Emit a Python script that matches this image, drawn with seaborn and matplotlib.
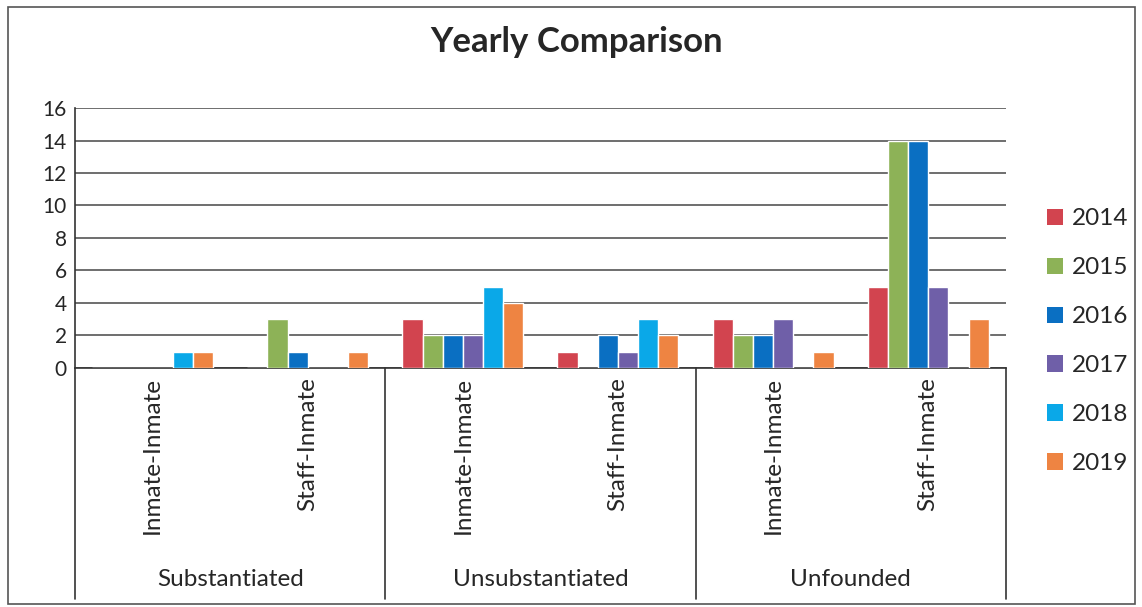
import pandas as pd
import numpy as np
import seaborn as sns
import matplotlib.pyplot as plt
from matplotlib.patches import Rectangle, Patch
from matplotlib.lines import Line2D

sns.set_style('white')
plt.rcParams['font.family'] = ['Lato', 'DejaVu Sans']

groups = ['Substantiated', 'Unsubstantiated', 'Unfounded']
types = ['Inmate-Inmate', 'Staff-Inmate']
years = ['2014', '2015', '2016', '2017', '2018', '2019']
colors = ['#D2444F', '#8DB257', '#0A6FC2', '#6F5FA8', '#0AA8E8', '#EE8442']

# values per category (group x type), one list per year
v2014 = [0, 0, 3, 1, 3, 5]
v2015 = [0, 3, 2, 0, 2, 14]
v2016 = [0, 1, 2, 2, 2, 14]
v2017 = [0, 0, 2, 1, 3, 5]
v2018 = [1, 0, 5, 3, 0, 0]
v2019 = [1, 1, 4, 2, 1, 3]

cats = [f'{g}|{t}' for g in groups for t in types]
rows = []
for yr, vals in zip(years, [v2014, v2015, v2016, v2017, v2018, v2019]):
    for c, v in zip(cats, vals):
        rows.append({'cat': c, 'year': yr, 'value': v})
df = pd.DataFrame(rows)

fig = plt.figure(figsize=(11.42, 6.07), dpi=100)
ax = fig.add_axes([0.0657, 0.394, 0.815, 0.428])

sns.barplot(data=df, x='cat', y='value', hue='year', order=cats, hue_order=years,
            palette=colors, width=0.78, saturation=1, ax=ax, legend=False, zorder=3)

ax.set_ylim(0, 16)
ax.set_xlim(-0.5, len(cats) - 0.5)
ax.set_yticks(range(0, 17, 2))
ax.yaxis.grid(True, color='#555555', linewidth=1.2, zorder=0)
ax.set_axisbelow(True)
ax.tick_params(axis='y', labelsize=15, length=0, pad=6)
ax.set_xticks([])
ax.set_xlabel('')
ax.set_ylabel('')
for s in ['top', 'right']:
    ax.spines[s].set_visible(False)
ax.spines['left'].set_color('#333333')
ax.spines['bottom'].set_color('#333333')
ax.spines['left'].set_linewidth(1.2)
ax.spines['bottom'].set_linewidth(1.2)

# category labels below the axis
trans = ax.get_xaxis_transform()
for i, c in enumerate(cats):
    ax.text(i, -0.035, c.split('|')[1], rotation=90, ha='center', va='top',
            fontsize=17.5, transform=trans)
for j, g in enumerate(groups):
    ax.text(2 * j + 0.5, -0.815, g, ha='center', va='center', fontsize=17.5,
            transform=trans)
for xb in [-0.5, 1.5, 3.5, 5.5]:
    ax.add_line(Line2D([xb, xb], [0, -0.89], transform=trans, color='#333333',
                       linewidth=1.2, clip_on=False))

fig.text(0.505, 0.93, 'Yearly Comparison', ha='center', va='center',
         fontsize=25, fontweight='bold')

handles = [Patch(facecolor=c, edgecolor='none') for c in colors]
fig.legend(handles, years, loc='center left', bbox_to_anchor=(0.898, 0.438),
           frameon=False, fontsize=17.5, handlelength=0.65, handleheight=0.65,
           handletextpad=0.35, labelspacing=1.15)

fig.patches.append(Rectangle((0.007, 0.005), 0.987, 0.983, transform=fig.transFigure,
                             fill=False, edgecolor='#555555', linewidth=1.2))

fig.savefig('out.png', dpi=100)
